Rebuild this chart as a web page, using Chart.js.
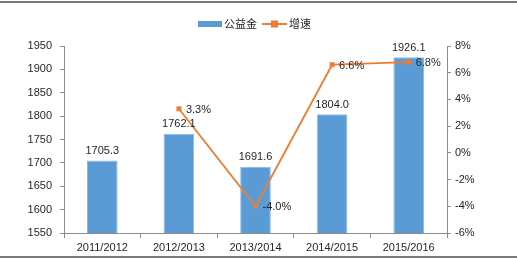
<!DOCTYPE html>
<html>
<head>
<meta charset="utf-8">
<script src="https://cdn.jsdelivr.net/npm/chart.js@4.4.0/dist/chart.umd.min.js"></script>
<style>
  html, body { margin: 0; padding: 0; background: #fff; }
  #wrap { width: 517px; height: 262px; }
</style>
</head>
<body>
<div id="wrap"><canvas id="chart"></canvas></div>
<script>
const years = ['2011/2012', '2012/2013', '2013/2014', '2014/2015', '2015/2016'];
const fund = [1705.3, 1762.1, 1691.6, 1804.0, 1926.1];
const growth = [null, 3.3, -4.0, 6.6, 6.8];
const seriesNames = ['公益金', '增速'];

const BLUE = '#5B9BD5';
const ORANGE = '#ED7D31';
const AXIS = '#8c8c8c';
const TEXT = '#262626';
const FONT = '"Liberation Sans", Arial, sans-serif';

// top / bottom frame lines, legend and value labels
const decorations = {
  id: 'decorations',
  beforeDraw(chart) {
    const c = chart.ctx;
    c.save();
    c.fillStyle = '#7a7a7a';
    c.fillRect(0, 1, chart.width, 2);
    c.fillRect(0, 256, chart.width, 2);
    c.restore();
  },
  afterDatasetsDraw(chart) {
    const c = chart.ctx;
    c.save();
    c.font = '11px ' + FONT;
    c.fillStyle = TEXT;

    // bar labels
    chart.getDatasetMeta(1).data.forEach((bar, i) => {
      c.textAlign = 'center';
      c.textBaseline = 'bottom';
      c.fillText(fund[i].toFixed(1), bar.x, bar.y - 4);
    });

    // line labels
    chart.getDatasetMeta(0).data.forEach((pt, i) => {
      if (growth[i] === null) return;
      c.textAlign = 'left';
      c.textBaseline = 'middle';
      c.fillText(growth[i].toFixed(1) + '%', pt.x + 7, pt.y + 1);
    });

    // legend
    const ly = 24;
    c.fillStyle = BLUE;
    c.fillRect(198, ly - 3, 24, 6);
    c.fillStyle = TEXT;
    c.font = '11px "Noto Sans CJK SC", sans-serif';
    c.textAlign = 'left';
    c.textBaseline = 'middle';
    c.fillText(seriesNames[0], 224, ly);
    c.strokeStyle = ORANGE;
    c.lineWidth = 2;
    c.beginPath();
    c.moveTo(262, ly);
    c.lineTo(287, ly);
    c.stroke();
    c.fillStyle = ORANGE;
    c.fillRect(271, ly - 3.5, 7, 7);
    c.fillStyle = TEXT;
    c.fillText(seriesNames[1], 289, ly);
    c.restore();
  }
};

const ctx = document.getElementById('chart').getContext('2d');
new Chart(ctx, {
  data: {
    labels: years,
    datasets: [{
      type: 'line',
      label: seriesNames[1],
      data: growth,
      yAxisID: 'y1',
      borderColor: ORANGE,
      backgroundColor: ORANGE,
      borderWidth: 1.8,
      pointStyle: 'rect',
      pointRadius: 3.5,
      pointBorderWidth: 0,
      tension: 0,
      order: 0
    }, {
      type: 'bar',
      label: seriesNames[0],
      data: fund,
      yAxisID: 'y',
      backgroundColor: BLUE,
      borderColor: '#8db8e6',
      borderWidth: 1,
      categoryPercentage: 1,
      barPercentage: 0.4,
      order: 1
    }]
  },
  options: {
    responsive: true,
    maintainAspectRatio: false,
    animation: false,
    layout: { padding: { top: 46, bottom: 5, left: 0, right: 0 } },
    plugins: {
      legend: { display: false },
      tooltip: { enabled: false }
    },
    scales: {
      x: {
        offset: true,
        afterFit: s => { s.height = 24; },
        grid: { offset: true, drawOnChartArea: false, color: AXIS, tickLength: 5 },
        border: { color: AXIS },
        ticks: { color: TEXT, font: { size: 11, family: FONT }, padding: 3, maxRotation: 0 }
      },
      y: {
        position: 'left',
        min: 1550,
        max: 1950,
        afterFit: s => { s.width = 64; },
        grid: { drawOnChartArea: false, color: AXIS, tickLength: 4 },
        border: { color: AXIS },
        ticks: { stepSize: 50, color: TEXT, font: { size: 11, family: FONT }, padding: 8,
          callback: v => String(v) }
      },
      y1: {
        position: 'right',
        min: -6,
        max: 8,
        afterFit: s => { s.width = 70; },
        grid: { drawOnChartArea: false, color: AXIS, tickLength: 4 },
        border: { color: AXIS },
        ticks: { stepSize: 2, color: TEXT, font: { size: 11, family: FONT }, padding: 4,
          callback: v => v + '%' }
      }
    }
  },
  plugins: [decorations]
});
</script>
</body>
</html>
